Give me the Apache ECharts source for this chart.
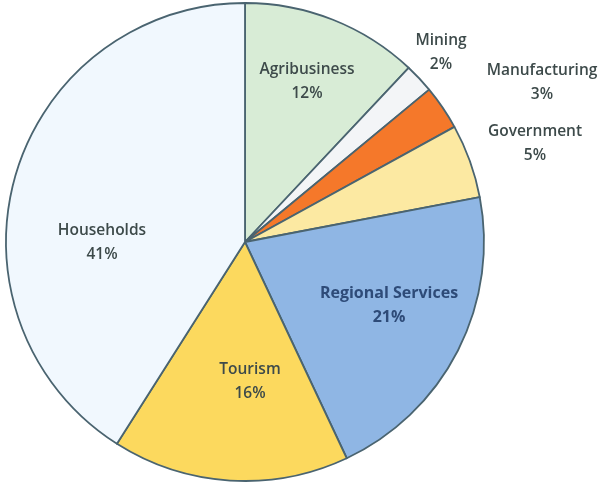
<!DOCTYPE html>
<html>
<head>
<meta charset="utf-8">
<script src="https://cdn.jsdelivr.net/npm/echarts@6/dist/echarts.min.js"></script>
<style>
  html, body { margin: 0; padding: 0; background: #ffffff; }
  #chart { width: 603px; height: 486px; }
</style>
</head>
<body>
<div id="chart"></div>
<script>
// Share of regional economy by sector (%)
var sectors = ['Agribusiness', 'Mining', 'Manufacturing', 'Government', 'Regional Services', 'Tourism', 'Households'];
var shares = [12, 2, 3, 5, 21, 16, 41];

// Slice fills and label colours, in sector order
var fills = ['#d8ecd6', '#f3f5f7', '#f5782a', '#fce9a2', '#8fb6e4', '#fcd95e', '#f1f8fe'];
var labelColors = ['#3d4a4a', '#3d4a4a', '#3d4a4a', '#3d4a4a', '#2e4b78', '#3d4a4a', '#3d4a4a'];
// Label anchor points (px) for each sector's label block
var labelPos = [[307, 82], [441, 53], [542, 83], [535, 144], [389, 305], [250, 382], [102, 243]];

var chart = echarts.init(document.getElementById('chart'), null, { renderer: 'canvas' });

var data = sectors.map(function (name, i) {
  var wide = i === 4;
  return {
    name: name,
    value: shares[i],
    itemStyle: { color: fills[i] },
    label: {
      color: labelColors[i],
      fontWeight: wide ? 'bold' : 600,
      fontFamily: '"Open Sans", sans-serif',
      fontSize: wide ? 16 : 15.5
    }
  };
});

chart.setOption({
  backgroundColor: '#ffffff',
  animation: false,
  series: [{
    type: 'pie',
    center: [245, 242],
    radius: 239,
    startAngle: 90,
    clockwise: true,
    data: data,
    itemStyle: {
      borderColor: '#4a6470',
      borderWidth: 1.8
    },
    label: {
      show: true,
      position: 'inside',
      formatter: '{b}\n{d}%',
      lineHeight: 24,
      align: 'center'
    },
    labelLine: { show: false },
    labelLayout: function (params) {
      var p = labelPos[params.dataIndex];
      return { x: p[0], y: p[1], align: 'center', verticalAlign: 'middle' };
    }
  }]
});
</script>
</body>
</html>
